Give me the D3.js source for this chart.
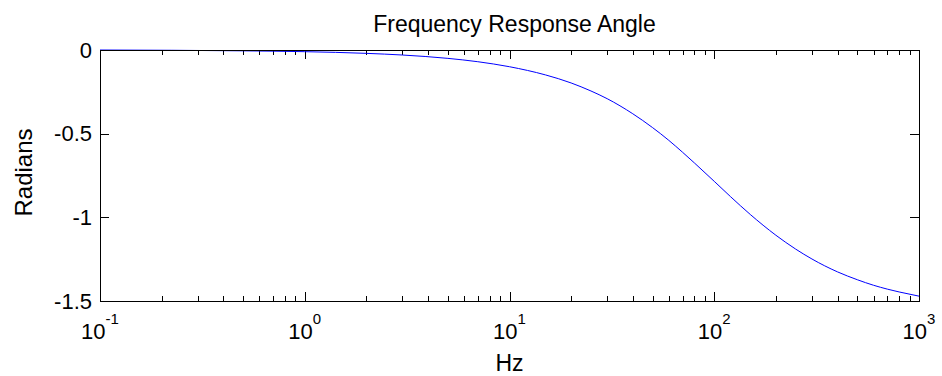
<!DOCTYPE html>
<html>
<head>
<meta charset="utf-8">
<script src="https://cdn.jsdelivr.net/npm/d3@7"></script>
<style>
  body { margin: 0; background: #fff; }
  svg text { font-family: "Liberation Sans", Arial, sans-serif; fill: #000; }
</style>
</head>
<body>
<div id="chart"></div>
<script>
// values
const freqs = [0.1, 0.5, 1, 2, 3, 5, 7, 10, 15, 20, 25, 30, 40, 50, 60, 70, 80, 100,
               120, 150, 200, 250, 300, 400, 500, 600, 700, 800, 1000]
const radians = [0, -0.005, -0.01, -0.02, -0.03, -0.05, -0.07, -0.1, -0.149, -0.197, -0.245,
                 -0.291, -0.381, -0.464, -0.54, -0.611, -0.675, -0.785, -0.876, -0.983,
                 -1.107, -1.19, -1.249, -1.326, -1.373, -1.406, -1.429, -1.446, -1.471]
const xTicks = [0.1, 1, 10, 100, 1000]
const xTickExp = ['-1', '0', '1', '2', '3']
const yTicks = [0, -0.5, -1, -1.5]
const yTickLabels = ['0', '-0.5', '-1', '-1.5']

const width = 942, height = 376
const margin = {top: 50, right: 23, bottom: 75, left: 100}
const innerW = width - margin.left - margin.right
const innerH = height - margin.top - margin.bottom

const svg = d3.select('#chart').append('svg')
  .attr('width', width)
  .attr('height', height)

const x = d3.scaleLog().domain([0.1, 1000]).range([0, innerW])
const y = d3.scaleLinear().domain([-1.5, 0]).range([innerH, 0])

const g = svg.append('g')
  .attr('transform', 'translate(' + margin.left + ',' + margin.top + ')')

// minor ticks 2..9 per decade
let minor = []
for (let d = 0.1; d < 1000; d *= 10) {
  for (let k = 2; k <= 9; k++) minor.push(d * k)
}

const tickG = g.append('g').attr('stroke', '#000').attr('stroke-width', 1)
minor.forEach(function(v) {
  let px = Math.round(x(v)) + 0.5
  tickG.append('line').attr('x1', px).attr('x2', px).attr('y1', innerH).attr('y2', innerH - 5)
  tickG.append('line').attr('x1', px).attr('x2', px).attr('y1', 0).attr('y2', 5)
})
xTicks.forEach(function(v) {
  let px = Math.round(x(v)) + 0.5
  tickG.append('line').attr('x1', px).attr('x2', px).attr('y1', innerH).attr('y2', innerH - 9)
  tickG.append('line').attr('x1', px).attr('x2', px).attr('y1', 0).attr('y2', 9)
})
yTicks.forEach(function(v) {
  let py = Math.round(y(v)) + 0.5
  tickG.append('line').attr('x1', 0).attr('x2', 9).attr('y1', py).attr('y2', py)
  tickG.append('line').attr('x1', innerW).attr('x2', innerW - 9).attr('y1', py).attr('y2', py)
})

// curve
const line = d3.line()
  .x(function(d, i) { return x(freqs[i]) })
  .y(function(d) { return y(d) })
  .curve(d3.curveMonotoneX)

g.append('path')
  .datum(radians)
  .attr('d', line)
  .attr('fill', 'none')
  .attr('stroke', '#0000ff')
  .attr('stroke-width', 1)

// frame
g.append('rect')
  .attr('x', 0.5).attr('y', 0.5)
  .attr('width', innerW).attr('height', innerH)
  .attr('fill', 'none')
  .attr('stroke', '#000')
  .attr('stroke-width', 1)

// x labels: 10^n
xTicks.forEach(function(v, i) {
  let t = g.append('text')
    .attr('x', x(v))
    .attr('y', innerH + 38)
    .attr('text-anchor', 'middle')
    .style('font-size', '22px')
  t.append('tspan').text('10')
  t.append('tspan').attr('dy', -15).style('font-size', '15px').text(xTickExp[i])
})

// y labels
yTicks.forEach(function(v, i) {
  g.append('text')
    .attr('x', -8)
    .attr('y', y(v))
    .attr('dy', '0.35em')
    .attr('text-anchor', 'end')
    .style('font-size', '22px')
    .text(yTickLabels[i])
})

svg.append('text')
  .attr('x', margin.left + innerW / 2 + 5)
  .attr('y', 32)
  .attr('text-anchor', 'middle')
  .style('font-size', '23px')
  .text('Frequency Response Angle')

svg.append('text')
  .attr('x', margin.left + innerW / 2)
  .attr('y', 371)
  .attr('text-anchor', 'middle')
  .style('font-size', '23px')
  .text('Hz')

svg.append('text')
  .attr('transform', 'translate(32,' + (margin.top + innerH / 2 - 3) + ') rotate(-90)')
  .attr('text-anchor', 'middle')
  .style('font-size', '24px')
  .text('Radians')
</script>
</body>
</html>
